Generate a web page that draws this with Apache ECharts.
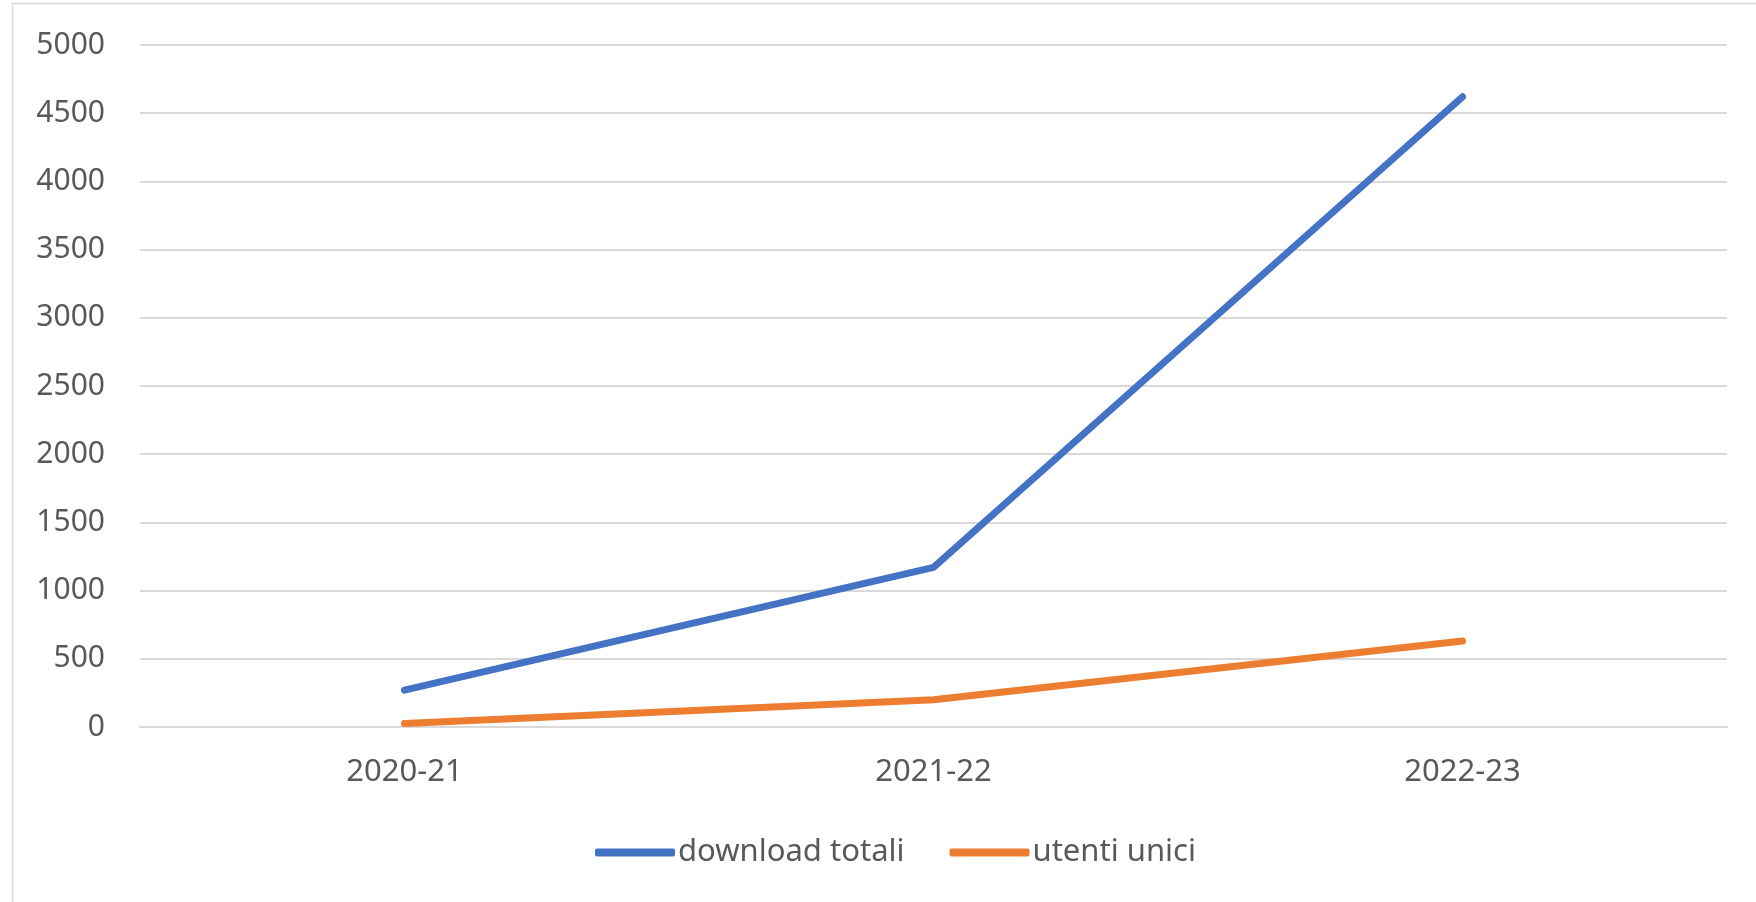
<!DOCTYPE html>
<html><head><meta charset="utf-8">
<script src="https://cdn.jsdelivr.net/npm/echarts@6/dist/echarts.min.js"></script>
<style>html,body{margin:0;padding:0;background:#fff}#c{width:1756px;height:902px}</style>
</head><body><div id="c"></div>
<script>
const categories = ['2020-21', '2021-22', '2022-23'];
const downloadTotali = [270, 1170, 4620];
const utentiUnici = [25, 200, 630];
const yTicks = { min: 0, max: 5000, interval: 500 };
const seriesNames = ['download totali', 'utenti unici'];

const chart = echarts.init(document.getElementById('c'));
const font = '"Noto Sans", "Open Sans", sans-serif';
chart.setOption({
  backgroundColor: '#fff',
  animation: false,
  graphic: [{
    type: 'rect', shape: { x: 12.5, y: 3.5, width: 1760, height: 920 },
    style: { fill: 'none', stroke: '#d9d9d9', lineWidth: 1.5 }, silent: true
  }],
  grid: { left: 140, right: 29, top: 45, bottom: 175 },
  legend: {
    top: 832, left: 590,
    icon: 'roundRect', itemWidth: 80, itemHeight: 8, itemGap: 45,
    textStyle: { color: '#595959', fontSize: 31, fontFamily: font, padding: [0, 0, 0, -2] },
    data: seriesNames
  },
  xAxis: {
    type: 'category', data: categories, boundaryGap: true,
    axisLine: { show: true, lineStyle: { color: '#d9d9d9', width: 2 } },
    axisTick: { show: false },
    axisLabel: { color: '#595959', fontSize: 31, fontFamily: font, margin: 30 }
  },
  yAxis: {
    type: 'value', min: yTicks.min, max: yTicks.max, interval: yTicks.interval,
    axisLine: { show: false }, axisTick: { show: false },
    splitLine: { lineStyle: { color: '#d9d9d9', width: 2 } },
    axisLabel: { color: '#595959', fontSize: 30, fontFamily: font, margin: 35,
      formatter: v => String(v) }
  },
  series: [
    { name: seriesNames[0], type: 'line', data: downloadTotali, showSymbol: false, symbol: 'none',
      itemStyle: { color: '#4472C4' }, lineStyle: { color: '#4472C4', width: 7, cap: 'round', join: 'round' } },
    { name: seriesNames[1], type: 'line', data: utentiUnici, showSymbol: false, symbol: 'none',
      itemStyle: { color: '#ED7D31' }, lineStyle: { color: '#ED7D31', width: 7, cap: 'round', join: 'round' } }
  ]
});
</script></body></html>
